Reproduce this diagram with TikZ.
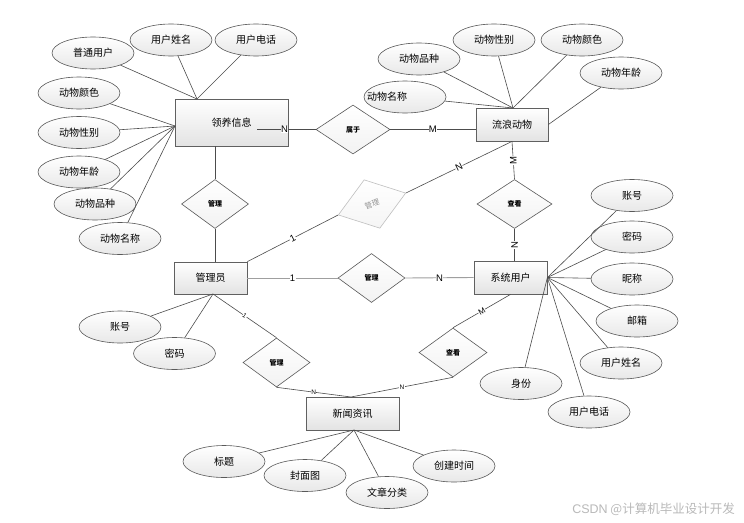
\documentclass[tikz,border=0pt]{standalone}
\usepackage{fontspec}
\setmainfont{Noto Sans CJK SC}
\newfontfamily\latinf{Liberation Sans}
\usetikzlibrary{shapes.geometric,shadows}
\begin{document}
\begin{tikzpicture}[x=1pt,y=-1pt,
  ent/.style={rectangle, draw=gray!75!black, line width=0.8pt, top color=white, bottom color=gray!22,
    inner sep=0pt, font=\fontsize{10}{12}\selectfont,
    drop shadow={shadow xshift=1.2pt, shadow yshift=-1.2pt, opacity=0.3}},
  attr/.style={ellipse, draw=gray!70!black, line width=0.6pt, top color=white, bottom color=gray!18,
    minimum width=82pt, minimum height=32pt, inner sep=0pt, font=\fontsize{10}{12}\selectfont},
  rel/.style={diamond, draw=gray!70!black, line width=0.6pt, top color=white, bottom color=gray!10,
    minimum width=68pt, minimum height=49pt, inner sep=0pt, font=\fontsize{7}{8}\selectfont\bfseries},
  lnk/.style={draw=gray!60!black, line width=0.6pt},
  card/.style={fill=white, inner sep=0.4pt, font=\latinf\fontsize{9.5}{10}\selectfont},
  cards/.style={fill=white, inner sep=0.3pt, font=\latinf\fontsize{6.5}{7}\selectfont}
]
\fill[white] (0,0) rectangle (744,522);
\useasboundingbox (0,0) rectangle (744,522);

% entities
\node[ent, minimum width=113pt, minimum height=47pt] (ly) at (231.5,122.5) {领养信息};
\node[ent, minimum width=72pt, minimum height=33pt] (lw) at (512,124.5) {流浪动物};
\node[ent, minimum width=73pt, minimum height=32pt] (gly) at (210.5,278) {管理员};
\node[ent, minimum width=73pt, minimum height=33pt] (xt) at (510.5,277.5) {系统用户};
\node[ent, minimum width=93pt, minimum height=33pt] (xw) at (352.5,413.5) {新闻资讯};

% relationships
\node[rel, minimum width=67pt] (r1) at (215,204) {管理};
\node[rel, minimum width=74pt] (r2) at (353,129.5) {属于};
\node[rel, minimum width=71pt, minimum height=51pt, rotate=18, draw=gray!50, top color=white, bottom color=gray!8,
      text=gray!85, font=\fontsize{7.5}{8}\selectfont] (r3) at (372,204) {管理};
\node[rel, minimum width=75pt] (r4) at (514.5,204) {查看};
\node[rel, minimum width=67pt] (r5) at (371.5,278) {管理};
\node[rel, minimum width=67pt] (r6) at (276.5,362.5) {管理};
\node[rel, minimum width=68pt] (r7) at (453,352.5) {查看};

% attributes of 领养信息
\node[attr] (a1) at (93,53) {普通用户};
\node[attr] (a2) at (171,40) {用户姓名};
\node[attr] (a3) at (256,40) {用户电话};
\node[attr] (a4) at (79,93) {动物颜色};
\node[attr] (a5) at (79,132.5) {动物性别};
\node[attr] (a6) at (79,172) {动物年龄};
\node[attr] (a7) at (95,204) {动物品种};
\node[attr] (a8) at (120,238.5) {动物名称};
% attributes of 流浪动物
\node[attr] (b1) at (419,59) {动物品种};
\node[attr] (b2) at (494,40) {动物性别};
\node[attr] (b3) at (582,40) {动物颜色};
\node[attr] (b4) at (621,73) {动物年龄};
\node[attr] (b5) at (405,97) {\hspace*{-18pt}动物名称\hspace*{18pt}};
% attributes of 系统用户
\node[attr] (c1) at (632,195.5) {账号};
\node[attr] (c2) at (632,237) {密码};
\node[attr] (c3) at (632,279) {昵称};
\node[attr] (c4) at (637,321) {邮箱};
\node[attr] (c5) at (621,363) {用户姓名};
\node[attr] (c6) at (521,383.5) {身份};
\node[attr] (c7) at (589,412) {用户电话};
% attributes of 管理员
\node[attr] (d1) at (120,327) {账号};
\node[attr] (d2) at (174.5,353.5) {密码};
% attributes of 新闻资讯
\node[attr] (e1) at (224,461.5) {标题};
\node[attr] (e2) at (305,475.5) {封面图};
\node[attr] (e3) at (387,492.5) {文章分类};
\node[attr] (e4) at (454,466) {创建时间};

% convergence points
\coordinate (lyT) at (197,99);
\coordinate (lyL) at (175,126);
\coordinate (lyIn) at (257,129.5);
\coordinate (lwT) at (513,108);
\coordinate (glyB) at (213,294);
\coordinate (xwB) at (354,430);
\coordinate (xwT) at (351,397);

% attribute links
\foreach \a in {a1,a2,a3} \draw[lnk] (\a) -- (lyT);
\foreach \a in {a4,a5,a6,a7,a8} \draw[lnk] (\a) -- (lyL);
\foreach \a in {b1,b2,b3,b5} \draw[lnk] (\a) -- (lwT);
\draw[lnk] (b4) -- (lw.east);
\foreach \a in {c1,c2,c3,c4,c5,c6,c7} \draw[lnk] (\a) -- (xt.east);
\foreach \a in {d1,d2} \draw[lnk] (\a) -- (glyB);
\foreach \a in {e1,e2,e3,e4} \draw[lnk] (\a) -- (xwB);

% relationship links
\draw[lnk] (lyIn) -- node[card, pos=0.47] {N} (r2.west);
\draw[lnk] (r2.east) -- node[card] {M} (r2.east -| lw.west);
\draw[lnk] (r1.north) -- (r1.north |- ly.south);
\draw[lnk] (r1.south) -- (r1.south |- gly.north);
\draw[lnk] (gly.north east) -- node[card, sloped] {1} (r3.west);
\draw[lnk] (r3.east) -- node[card, sloped] {N} (lw.south);
\draw[lnk] (lw.south) -- node[card, rotate=90] {M} (r4.north);
\draw[lnk] (r4.south) -- node[card, rotate=90] {N} (r4.south |- xt.north);
\draw[lnk, line width=0.9pt, draw=gray!75] (gly.east) -- node[card] {1} (r5.west);
\draw[lnk, line width=0.9pt, draw=gray!75] (r5.east) -- node[card] {N} (xt.west);
\draw[lnk] (glyB) -- node[cards, sloped] {1} (r6.north);
\draw[lnk] (r6.south) -- node[cards] {N} (xwT);
\draw[lnk] (xt.south) -- node[card, sloped, font=\latinf\fontsize{8}{9}\selectfont] {M} (r7.north);
\draw[lnk] (r7.south) -- node[cards] {N} (xwT);

% watermark
\node[anchor=east, text=gray!55, font=\fontsize{12.5}{14}\selectfont, inner sep=0pt] (wm) at (735,509) {{\latinf CSDN} @计算机毕业设计开发};
\end{tikzpicture}
\end{document}
